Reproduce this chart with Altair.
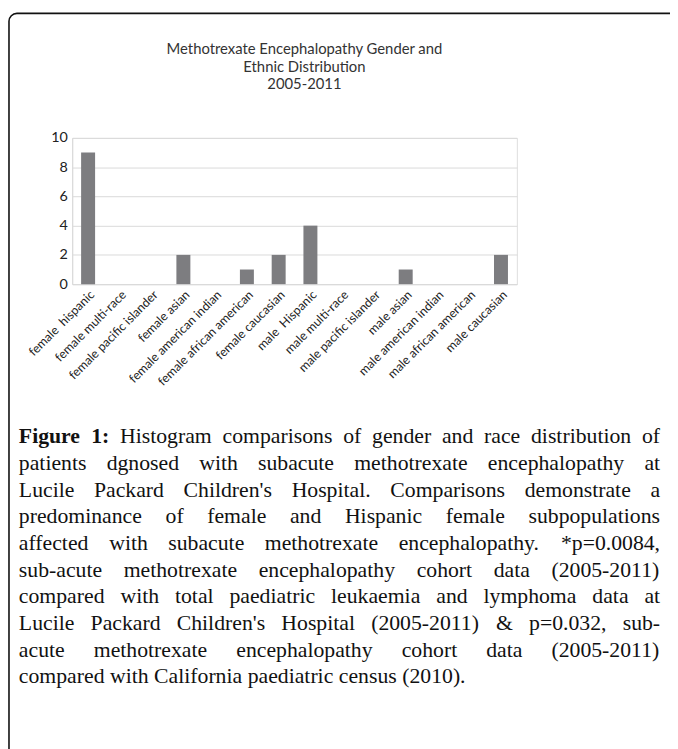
import altair as alt
import pandas as pd

# ---------------- data ----------------
categories = [
    "female\u00a0 hispanic", "female multi-race", "female pacific islander", "female asian",
    "female american indian", "female african american", "female caucasian",
    "male\u00a0 Hispanic", "male multi-race", "male pacific islander", "male asian",
    "male american indian", "male african american", "male caucasian",
]
counts = [9, 0, 0, 2, 0, 1, 2, 4, 0, 0, 1, 0, 0, 2]
y_ticks = [0, 2, 4, 6, 8, 10]

title_lines = ["Methotrexate Encephalopathy Gender and", "Ethnic Distribution", "2005-2011"]

caption_lines = [
    "Figure 1: Histogram comparisons of gender and race distribution of",
    "patients dgnosed with subacute methotrexate encephalopathy at",
    "Lucile Packard Children's Hospital. Comparisons demonstrate a",
    "predominance of female and Hispanic female subpopulations",
    "affected with subacute methotrexate encephalopathy. *p=0.0084,",
    "sub-acute methotrexate encephalopathy cohort data (2005-2011)",
    "compared with total paediatric leukaemia and lymphoma data at",
    "Lucile Packard Children's Hospital (2005-2011) & p=0.032, sub-",
    "acute methotrexate encephalopathy cohort data (2005-2011)",
    "compared with California paediatric census (2010).",
]
bold_words = 2  # "Figure 1:" is bold

# ---------------- layout ----------------
PAGE_LEFT, PAGE_TOP = 8, 8
PLOT_X, PLOT_Y = 73, 135          # plot origin on the page
PLOT_W, PLOT_H = 450, 148
TOTAL_W, TOTAL_H = 670, 741

CAP_L, CAP_R = 19, 668            # caption margins (page)
CAP_Y0, CAP_DY = 437, 27
CAP_FS = 22

# Times / Liberation Serif advance widths (1/1000 em)
TIMES = {
    'a': 444, 'b': 500, 'c': 444, 'd': 500, 'e': 444, 'f': 333, 'g': 500, 'h': 500, 'i': 278,
    'j': 278, 'k': 500, 'l': 278, 'm': 778, 'n': 500, 'o': 500, 'p': 500, 'q': 500, 'r': 333,
    's': 389, 't': 278, 'u': 500, 'v': 500, 'w': 722, 'x': 500, 'y': 500, 'z': 444,
    'A': 722, 'B': 667, 'C': 667, 'D': 722, 'E': 611, 'F': 556, 'G': 722, 'H': 722, 'I': 333,
    'L': 611, 'M': 889, 'N': 722, 'O': 722, 'P': 556, 'R': 667, 'S': 556, 'T': 611,
    '0': 500, '1': 500, '2': 500, '3': 500, '4': 500, '5': 500, '6': 500, '7': 500, '8': 500,
    '9': 500, ' ': 250, '.': 250, ',': 250, ':': 278, '-': 333, '(': 333, ')': 333, '&': 778,
    '=': 564, '*': 500, "'": 180,
}
TIMES_BOLD = {'F': 611, 'i': 278, 'g': 500, 'u': 556, 'r': 444, 'e': 444, '1': 500, ':': 333}


def width(word, bold=False):
    table = TIMES_BOLD if bold else TIMES
    return sum(table.get(ch, TIMES.get(ch, 500)) for ch in word) * CAP_FS / 1000.0


rows = []
for li, line in enumerate(caption_lines):
    words = line.split(" ")
    isbold = [(li == 0 and k < bold_words) for k in range(len(words))]
    ws = [width(w, b) for w, b in zip(words, isbold)]
    if li == len(caption_lines) - 1:
        gap = TIMES[' '] * CAP_FS / 1000.0
    else:
        gap = (CAP_R - CAP_L - sum(ws)) / (len(words) - 1)
    x = CAP_L
    for w, wd, b in zip(words, ws, isbold):
        rows.append({"word": w, "px": x - PLOT_X, "py": CAP_Y0 + li * CAP_DY - PLOT_Y, "bold": b})
        x += wd + gap
cap_df = pd.DataFrame(rows)

bars_df = pd.DataFrame({"category": categories, "count": counts})
one = pd.DataFrame({"k": [0]})

# ---------------- marks ----------------
border = alt.Chart(one).mark_rect(
    fillOpacity=0, stroke="#111111", strokeWidth=1.6, cornerRadius=8
).encode(
    x=alt.value(PAGE_LEFT + 1 - PLOT_X), y=alt.value(PAGE_TOP + 1 - PLOT_Y),
    x2=alt.value(900), y2=alt.value(1000),
)

bars = alt.Chart(bars_df).mark_bar(color="#7d7d80").encode(
    x=alt.X("category:N", sort=categories, title=None,
            scale=alt.Scale(paddingInner=0.56, paddingOuter=0.28),
            axis=alt.Axis(labelAngle=-45, labelFontSize=12.5, labelFont="Lato", labelColor="#222222",
                          ticks=False, domainColor="#d9d9d9", labelPadding=4, labelLimit=300)),
    y=alt.Y("count:Q", title=None, scale=alt.Scale(domain=[0, 10], nice=False),
            axis=alt.Axis(values=y_ticks, ticks=False, gridColor="#d9d9d9", domainColor="#d9d9d9",
                          labelFontSize=14.5, labelFont="Lato", labelColor="#222222", labelPadding=5)),
)

title = alt.Chart(one).mark_text(
    text=title_lines, font="Lato", fontSize=15, color="#333333", align="center",
    baseline="top", lineHeight=18,
).encode(x=alt.value(308 - PLOT_X), y=alt.value(38 - PLOT_Y))

cap_regular = alt.Chart(cap_df[~cap_df["bold"]]).mark_text(
    font="Liberation Serif", fontSize=CAP_FS, color="#111111", align="left", baseline="middle"
).encode(
    x=alt.X("px:Q", scale=None, axis=None),
    y=alt.Y("py:Q", scale=None, axis=None),
    text="word:N",
)
cap_bold = alt.Chart(cap_df[cap_df["bold"]]).mark_text(
    font="Liberation Serif", fontSize=CAP_FS, fontWeight="bold", color="#111111", align="left",
    baseline="middle"
).encode(
    x=alt.X("px:Q", scale=None, axis=None),
    y=alt.Y("py:Q", scale=None, axis=None),
    text="word:N",
)

chart = alt.layer(border, bars, title, cap_regular, cap_bold).resolve_scale(
    x="independent", y="independent"
).properties(
    width=PLOT_W, height=PLOT_H,
    autosize=alt.AutoSizeParams(type="none"),
    padding={"left": PLOT_X - PAGE_LEFT, "top": PLOT_Y - PAGE_TOP,
             "right": TOTAL_W - (PLOT_X - PAGE_LEFT) - PLOT_W,
             "bottom": TOTAL_H - (PLOT_Y - PAGE_TOP) - PLOT_H},
).configure_view(stroke=None).configure(background="white")

chart.save("out.html", embed_options={"renderer": "svg", "actions": False})
